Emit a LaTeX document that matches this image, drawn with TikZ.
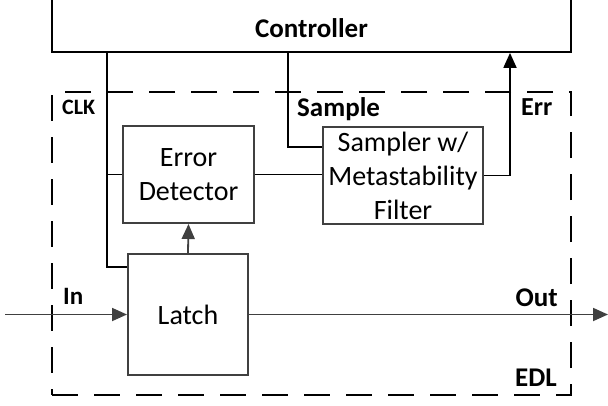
\documentclass[tikz,border=0pt]{standalone}
\usepackage{fontspec}
\setmainfont{Carlito}
\usetikzlibrary{arrows.meta}
\definecolor{boxgray}{HTML}{404040}
\tikzset{
  blk/.style={draw=boxgray, line width=2pt, inner sep=0pt, align=center,
    font=\fontsize{28}{34}\selectfont},
  wire/.style={draw=black, line width=1.8pt},
  gwire/.style={draw=boxgray, line width=1.8pt},
  tip/.style={-{Triangle[length=15pt,width=13pt]}},
  lbl/.style={inner sep=0pt, font=\bfseries\fontsize{27}{32}\selectfont},
  dashbox/.style={draw=black, line width=1.8pt, dash pattern=on 26pt off 16pt, inner sep=0pt}
}
\begin{document}
\begin{tikzpicture}[x=1pt,y=-1pt]
\useasboundingbox (0,0) rectangle (608,405);
% controller (open at top)
\node[draw=black, line width=1.8pt, minimum width=519pt, minimum height=72pt, inner sep=0pt] (ctrl) at (311.5,16) {};
\node[lbl, anchor=base] (ctrltxt) at (311.5,37) {Controller};
% EDL dashed box
\node[dashbox, minimum width=519pt, minimum height=303pt] (edl) at (311.5,243.5) {};
% blocks
\node[blk, minimum width=131pt, minimum height=97pt] (ed) at (188.5,174.5) {Error\\Detector};
\node[blk, minimum width=160pt, minimum height=97pt] (samp) at (403,175.5) {Sampler w/\\Metastability\\Filter};
\node[blk, minimum width=120pt, minimum height=121pt] (latch) at (188,314.5) {Latch};
% coordinates
\coordinate (clkb) at (107,267);
\coordinate (sb) at (288,147);
\coordinate (eb) at (510,175.5);
\coordinate (inpt) at (5,314.5);
\coordinate (outpt) at (608,314.5);
% CLK
\draw[wire] (clkb |- ctrl.south) -- (clkb) -- (clkb -| latch.west);
\draw[wire] (ed.west -| clkb) -- (ed.west);
% Sample
\draw[wire] (sb |- ctrl.south) -- (sb) -- (sb -| samp.west);
% ED to sampler
\draw[wire] (ed.east) -- (ed.east -| samp.west);
% Err
\draw[wire, tip] (samp.east) -- (eb) -- (eb |- ctrl.south);
% latch to ED
\draw[gwire, tip] (latch.north) -- (ed.south);
% In / Out
\draw[gwire, tip] (inpt) -- (inpt -| latch.west);
\draw[gwire, tip] (latch.east) -- (outpt);
% labels
\node[lbl, anchor=base west, font=\bfseries\fontsize{22}{26}\selectfont] (clklbl) at (62,114) {CLK};
\node[lbl, anchor=base west] (samplbl) at (297,116) {Sample};
\node[lbl, anchor=base west, font=\bfseries\fontsize{26}{30}\selectfont] (errlbl) at (521,115.5) {Err};
\node[lbl, anchor=base west, font=\bfseries\fontsize{25}{30}\selectfont] (inlbl) at (63,304) {In};
\node[lbl, anchor=base east] (outlbl) at (558,306) {Out};
\node[lbl, anchor=base east] (edllbl) at (557,386) {EDL};
\end{tikzpicture}
\end{document}
